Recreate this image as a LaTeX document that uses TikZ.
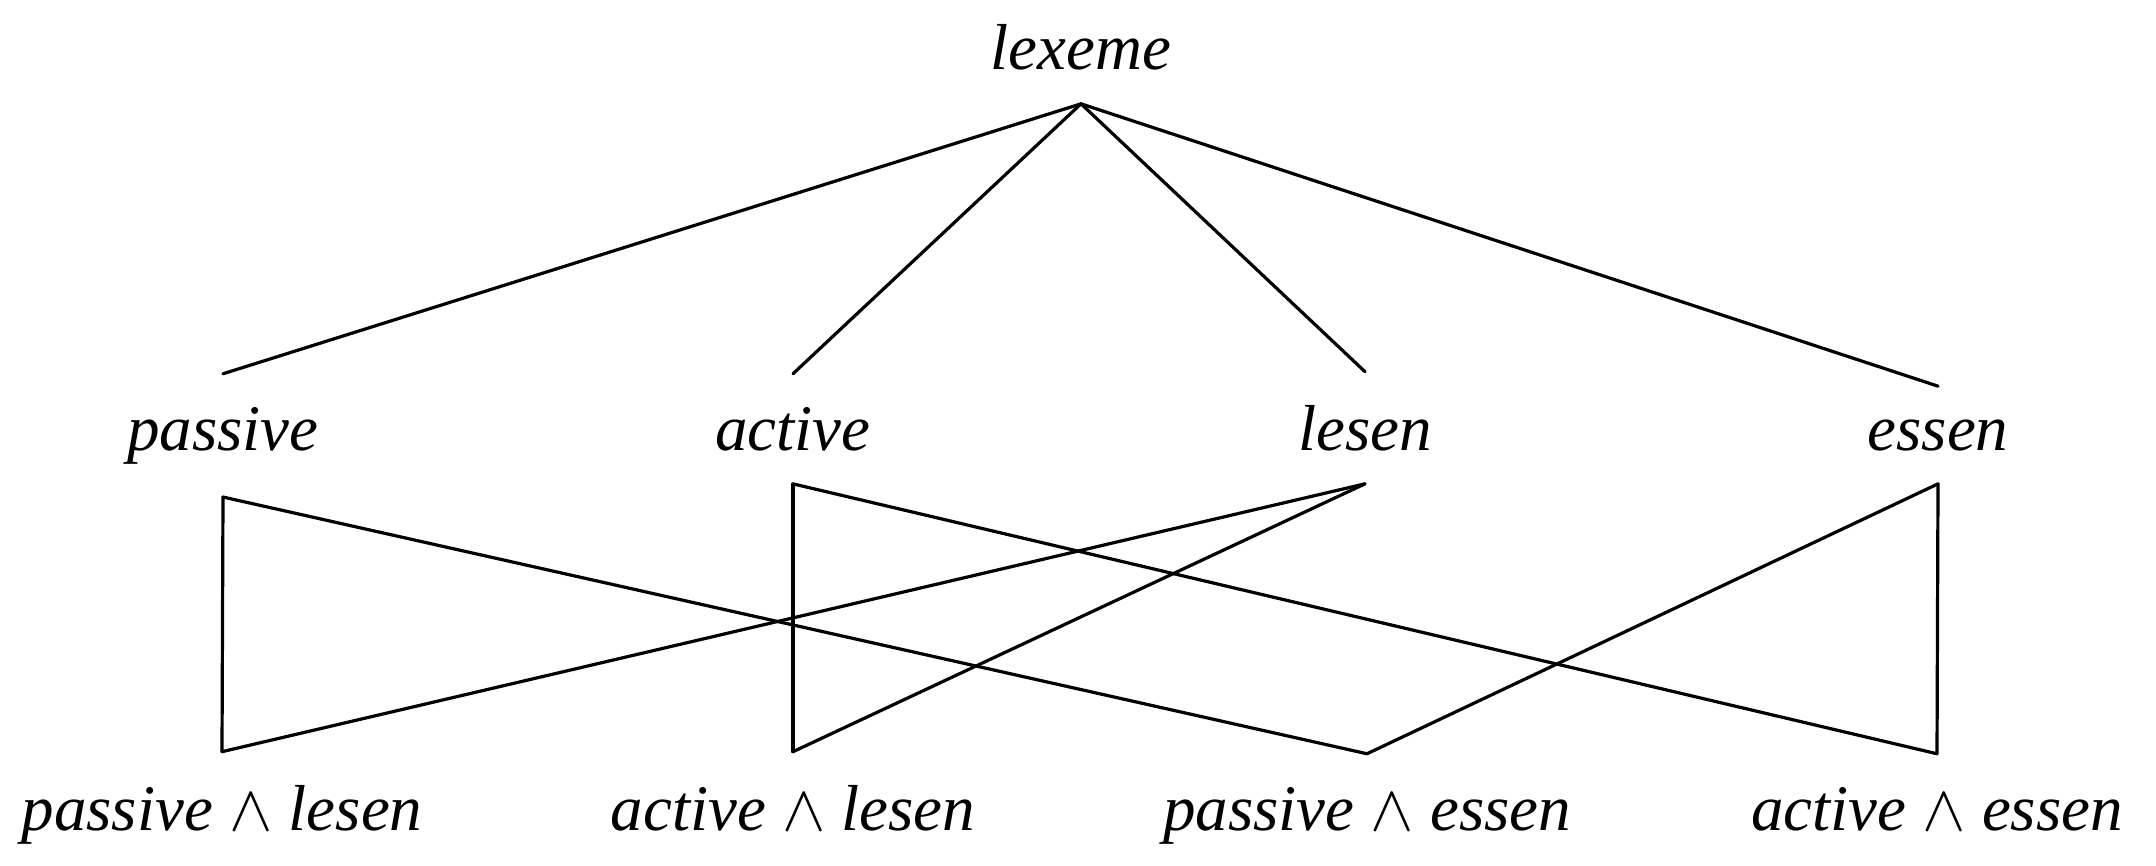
\RequirePackage{fix-cm}
\documentclass[tikz,border=0pt]{standalone}
\usepackage{fontspec}
\setmainfont{Liberation Serif}
\begin{document}
\begin{tikzpicture}[x=1pt,y=-1pt,
  lbl/.style={anchor=base,inner sep=33pt,font=\fontsize{65}{78}\selectfont\itshape},
  edge/.style={line width=3.2pt,line cap=round,line join=round}]
\useasboundingbox (0,0) rectangle (2156,866);
\node[lbl] (lex) at (1081,70) {lexeme};
\node[lbl] (pas) at (223,450) {passive};
\node[lbl] (act) at (793,450) {active};
\node[lbl] (les) at (1365,450) {lesen};
\node[lbl] (ess) at (1938,450) {essen};
\node[lbl] (pl) at (222,830) {passive $\wedge$ lesen};
\node[lbl] (al) at (793,830) {active $\wedge$ lesen};
\node[lbl] (pe) at (1367,830) {passive $\wedge$ essen};
\node[lbl] (ae) at (1937,830) {active $\wedge$ essen};
\draw[edge] (lex.south) -- (pas.north);
\draw[edge] (lex.south) -- (act.north);
\draw[edge] (lex.south) -- (les.north);
\draw[edge] (lex.south) -- (ess.north);
\draw[edge] (pas.south) -- (pl.north);
\draw[edge] (pas.south) -- (pe.north);
\draw[edge] (act.south) -- (al.north);
\draw[edge] (act.south) -- (ae.north);
\draw[edge] (les.south) -- (pl.north);
\draw[edge] (les.south) -- (al.north);
\draw[edge] (ess.south) -- (pe.north);
\draw[edge] (ess.south) -- (ae.north);
\end{tikzpicture}
\end{document}
